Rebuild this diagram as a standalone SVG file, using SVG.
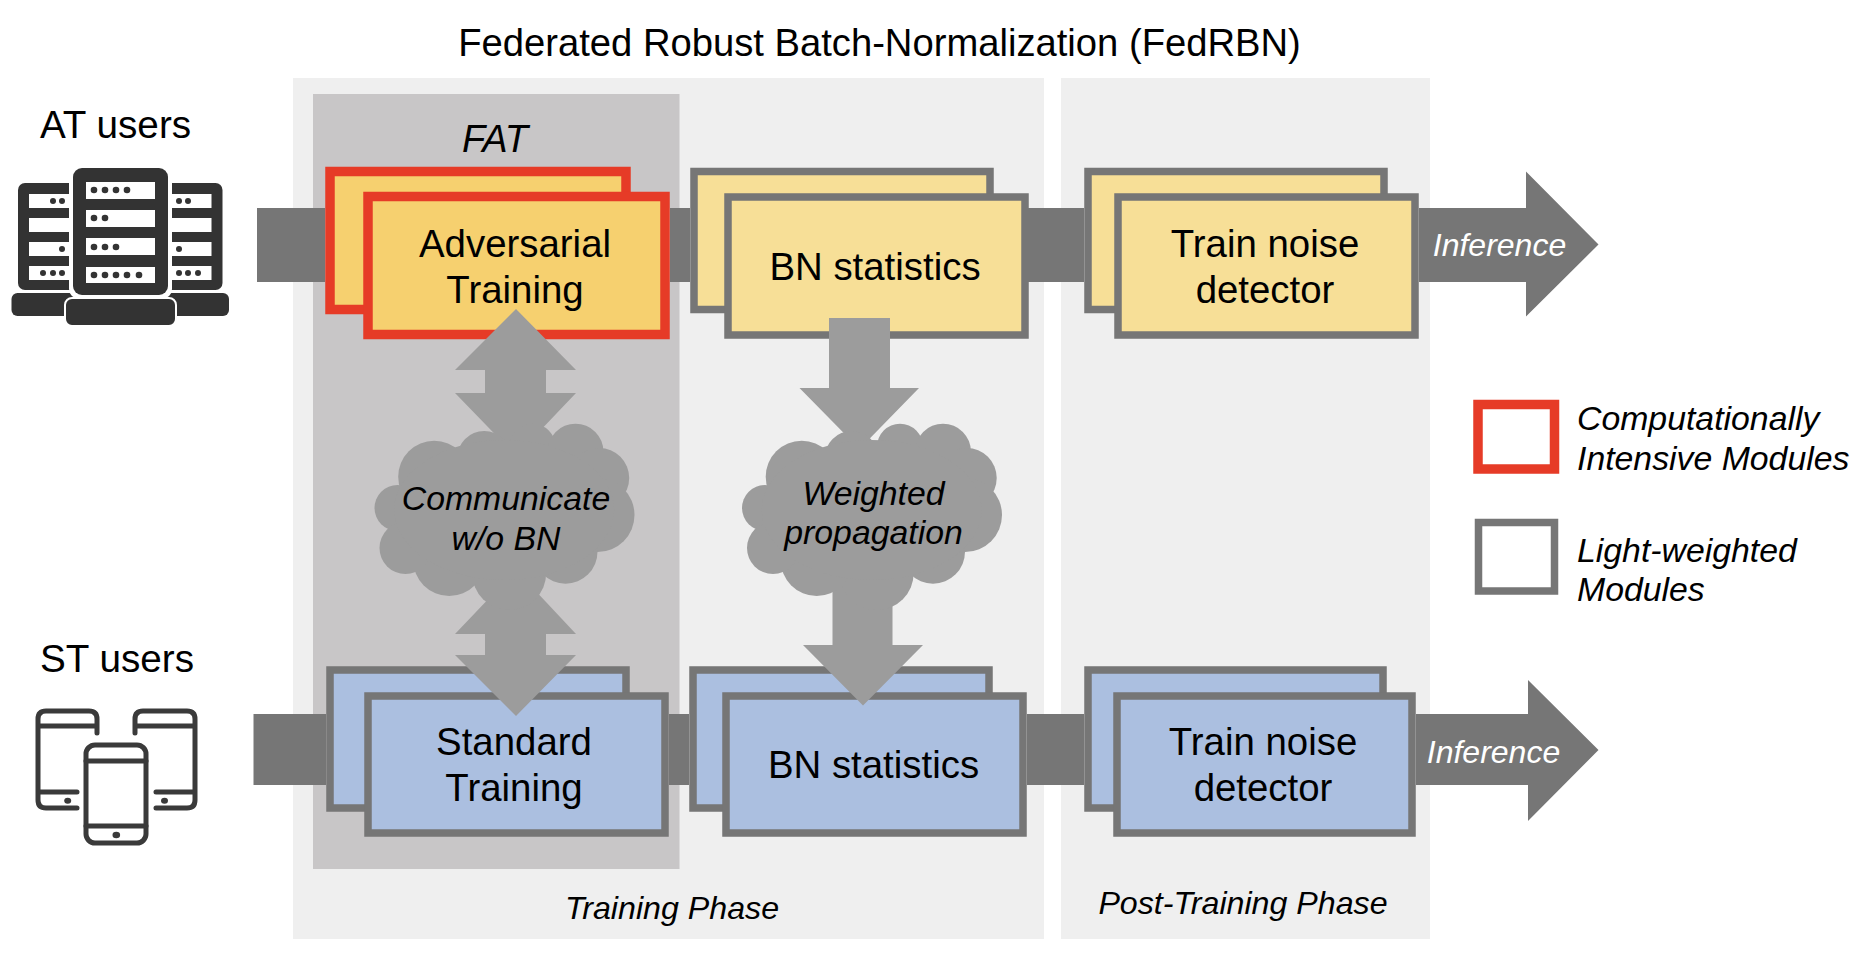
<svg xmlns="http://www.w3.org/2000/svg" xmlns:xlink="http://www.w3.org/1999/xlink" width="1866" height="973" viewBox="0 0 1866 973">
<style>
text{font-family:"Liberation Sans",Arial,sans-serif;fill:#000;text-anchor:middle}
.t38{font-size:38.4px}
.usr{font-size:38.7px}
.i{font-style:italic}
.i33{font-style:italic;font-size:33.8px}
.i31{font-style:italic;font-size:32.2px}
.inf{font-style:italic;font-size:32px;fill:#fff}
.leg{font-style:italic;font-size:33.8px;text-anchor:start}
.panel{fill:#efefef}
.red{stroke:#e63b27;stroke-width:9.5}
.gy{stroke:#767676;stroke-width:7.5}
.ora{fill:#f6d06f}
.yel{fill:#f7df97}
.blu{fill:#abbfe0}
.band{fill:#767676}
.blk{fill:#9c9c9c}
.dk{fill:#333}
.wh{fill:#fff}
.ph{fill:none;stroke:#3a3a3a;stroke-width:5;stroke-linecap:round;stroke-linejoin:round}
</style>
<defs>
<g id="cloud" class="blk">
<circle cx="397.500" cy="508" r="23"/>
<circle cx="434.200" cy="476.700" r="36"/>
<circle cx="484.200" cy="458" r="27"/>
<circle cx="532.500" cy="446.700" r="23"/>
<circle cx="575.500" cy="451.700" r="28"/>
<circle cx="599.200" cy="478" r="30"/>
<circle cx="597.500" cy="515" r="37"/>
<circle cx="565.500" cy="551.700" r="32"/>
<circle cx="509.200" cy="573" r="37"/>
<circle cx="449.200" cy="560" r="36"/>
<circle cx="405.500" cy="548" r="26"/>
<ellipse cx="504.200" cy="510" rx="110" ry="70"/>
</g>
<g id="srvside">
<rect class="dk" x="18" y="183" width="62" height="107" rx="7"/>
<rect class="wh" x="29" y="194" width="50" height="14"/>
<rect class="wh" x="29" y="218" width="50" height="14"/>
<rect class="wh" x="29" y="242" width="50" height="14"/>
<rect class="wh" x="29" y="266" width="50" height="14"/>
<rect class="dk" x="11.500" y="293" width="70" height="23" rx="6"/>
</g>
</defs>

<g id="panels">
<rect class="panel" x="293" y="78" width="751" height="861"/>
<rect class="panel" x="1061" y="78" width="369" height="861"/>
<rect x="313" y="94" width="366.500" height="775" fill="#c8c6c7"/>
</g>

<g id="title"><text x="879.500" y="56" font-size="38.2">Federated Robust Batch-Normalization (FedRBN)</text></g>

<g id="at-users">
<text class="usr" x="115.500" y="138">AT users</text>
<use xlink:href="#srvside"/>
<use xlink:href="#srvside" transform="matrix(-1 0 0 1 240.500 0)"/>
<g class="dk">
<circle cx="53" cy="201" r="3"/><circle cx="62" cy="201" r="3"/>
<circle cx="62" cy="249" r="3"/>
<circle cx="43" cy="273" r="3"/><circle cx="53" cy="273" r="3"/><circle cx="62" cy="273" r="3"/>
<circle cx="179" cy="201" r="3"/><circle cx="188" cy="201" r="3"/>
<circle cx="179" cy="249" r="3"/>
<circle cx="179" cy="273" r="3"/><circle cx="188" cy="273" r="3"/><circle cx="198" cy="273" r="3"/>
</g>
<rect x="69" y="164" width="103" height="135" rx="10" fill="#fff"/>
<rect class="dk" x="73" y="168" width="95" height="127" rx="9"/>
<rect class="wh" x="86" y="182" width="69" height="17"/>
<rect class="wh" x="86" y="210" width="69" height="17"/>
<rect class="wh" x="86" y="238" width="69" height="17"/>
<rect class="wh" x="86" y="267" width="69" height="16"/>
<g class="dk">
<circle cx="94" cy="190" r="3.300"/><circle cx="105" cy="190" r="3.300"/><circle cx="116" cy="190" r="3.300"/><circle cx="127" cy="190" r="3.300"/>
<circle cx="94" cy="218" r="3.300"/><circle cx="105" cy="218" r="3.300"/>
<circle cx="94" cy="247" r="3.300"/><circle cx="105" cy="247" r="3.300"/><circle cx="116" cy="247" r="3.300"/>
<circle cx="94" cy="275" r="3.300"/><circle cx="105" cy="275" r="3.300"/><circle cx="116" cy="275" r="3.300"/><circle cx="127" cy="275" r="3.300"/><circle cx="139" cy="275" r="3.300"/>
</g>
<rect class="dk" x="65" y="298" width="111" height="28" rx="7" stroke="#fff" stroke-width="2"/>
</g>

<g id="st-users">
<text class="usr" x="117" y="672">ST users</text>
<path class="ph" d="M97 733V719Q97 711 89 711H46Q38 711 38 719V800Q38 808 46 808H77M38 726H97M38 792H77"/>
<path class="ph" d="M135 733V719Q135 711 143 711H187Q195 711 195 719V800Q195 808 187 808H156M135 726H195M195 792H156"/>
<ellipse cx="67.700" cy="800.700" rx="3.500" ry="3" fill="#3a3a3a"/>
<ellipse cx="164.500" cy="800.700" rx="3.500" ry="3" fill="#3a3a3a"/>
<rect class="ph" x="86" y="745" width="60" height="98" rx="9"/>
<path class="ph" d="M86 761H146M86 826H146"/>
<ellipse cx="116.300" cy="835" rx="3.800" ry="3.200" fill="#3a3a3a"/>
</g>

<g id="adv-training">
<rect class="ora red" x="330" y="171.500" width="296" height="138"/>
<rect class="ora red" x="368" y="196.500" width="297" height="138"/>
<text class="t38" x="515" y="257">Adversarial</text>
<text class="t38" x="515" y="303">Training</text>
</g>
<g id="bn-top">
<rect class="yel gy" x="694" y="171.500" width="296" height="138"/>
<rect class="yel gy" x="728" y="197" width="297" height="138"/>
<text class="t38" x="875" y="280">BN statistics</text>
</g>
<g id="noise-top">
<rect class="yel gy" x="1088" y="171.500" width="296" height="138"/>
<rect class="yel gy" x="1118" y="197" width="297" height="138"/>
<text class="t38" x="1265" y="257">Train noise</text>
<text class="t38" x="1265" y="303">detector</text>
</g>
<g id="std-training">
<rect class="blu gy" x="330" y="670" width="296" height="138"/>
<rect class="blu gy" x="368" y="696" width="297" height="137"/>
<text class="t38" x="514" y="755">Standard</text>
<text class="t38" x="514" y="801">Training</text>
</g>
<g id="bn-bottom">
<rect class="blu gy" x="693" y="670" width="296" height="138"/>
<rect class="blu gy" x="726" y="696" width="297" height="137"/>
<text class="t38" x="873.500" y="778">BN statistics</text>
</g>
<g id="noise-bottom">
<rect class="blu gy" x="1088" y="670" width="295" height="138"/>
<rect class="blu gy" x="1117" y="696" width="295" height="137"/>
<text class="t38" x="1263" y="755">Train noise</text>
<text class="t38" x="1263" y="801">detector</text>
</g>

<g id="connectors">
<rect class="band" x="257" y="208" width="68" height="74"/>
<rect class="band" x="670" y="208" width="20" height="74"/>
<rect class="band" x="1028" y="208" width="56" height="74"/>
<path class="band" d="M1419 208H1526V171.500L1598.500 244.500L1526 316.500V282H1419Z"/>
<rect class="band" x="253.500" y="714" width="72.500" height="71"/>
<rect class="band" x="669" y="714" width="20" height="71"/>
<rect class="band" x="1027" y="714" width="57" height="71"/>
<path class="band" d="M1416 714H1528V680L1598.500 750L1528 821V785H1416Z"/>
<path class="blk" d="M516 309L576 370H546V393H576L516 456L455 393H485V370H455Z"/>
<path class="blk" d="M516 570L576 634H546V655H576L516 716L455 655H485V634H455Z"/>
<path class="blk" d="M829 318H890V388H919L859.500 449L799.500 388H829Z"/>
<path class="blk" d="M832.500 585H892.500V645H923L863 705.500L803 645H832.500Z"/>
</g>

<g id="cloud-communicate">
<use xlink:href="#cloud"/>
<text class="i33" x="506" y="510">Communicate</text>
<text class="i33" x="506" y="550">w/o BN</text>
</g>
<g id="cloud-weighted">
<use xlink:href="#cloud" transform="translate(367.500 0)"/>
<text class="i33" x="873.500" y="505">Weighted</text>
<text class="i33" x="873.500" y="544">propagation</text>
</g>

<g id="labels">
<text class="i" x="495" y="152" font-size="38">FAT</text>
<text class="inf" x="1499.500" y="256">Inference</text>
<text class="inf" x="1493.500" y="763">Inference</text>
<text class="i31" x="672" y="919">Training Phase</text>
<text class="i31" x="1243" y="914">Post-Training Phase</text>
</g>

<g id="legend-red">
<rect x="1478" y="404.500" width="76.500" height="64.500" fill="#fff" class="red"/>
<text class="leg" x="1577" y="430">Computationally</text>
<text class="leg" x="1577" y="470">Intensive Modules</text>
</g>
<g id="legend-gray">
<rect x="1478.500" y="522.500" width="76" height="68.500" fill="#fff" class="gy"/>
<text class="leg" x="1577" y="562">Light-weighted</text>
<text class="leg" x="1577" y="601">Modules</text>
</g>
</svg>
